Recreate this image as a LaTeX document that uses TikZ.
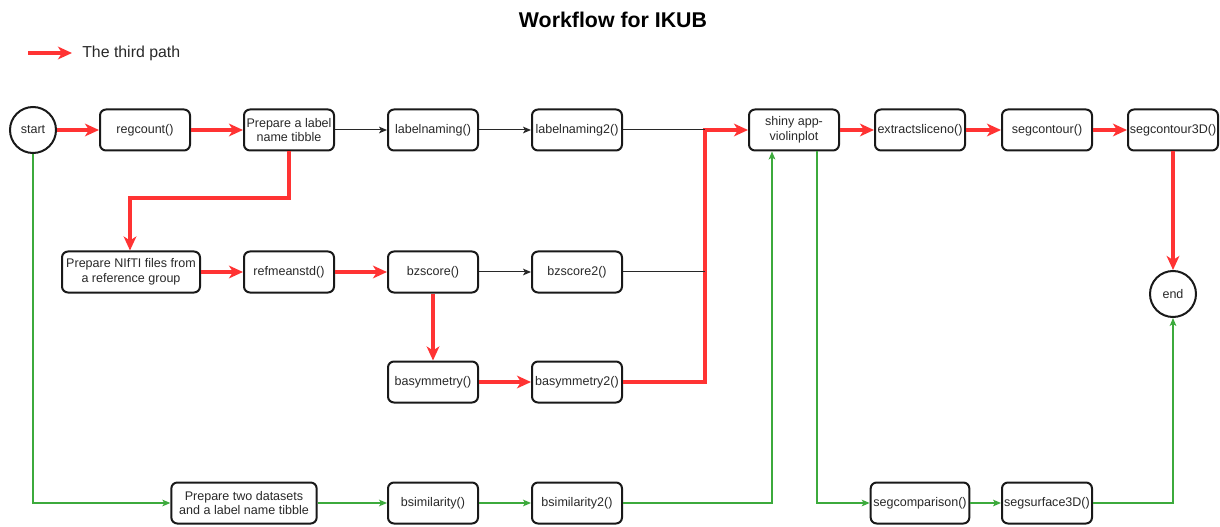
\documentclass[tikz,border=0pt]{standalone}
\usepackage{fontspec}
\setmainfont{Liberation Sans}
\usetikzlibrary{arrows.meta,calc}
\definecolor{pathred}{RGB}{255,51,51}
\definecolor{pathgreen}{RGB}{60,170,60}
\definecolor{ink}{RGB}{40,40,40}
\begin{document}
\begin{tikzpicture}[x=0.75pt,y=-0.75pt,
  box/.style={draw=black!90, line width=1.5pt, rounded corners=4.5pt,
    minimum width=67.5pt, minimum height=30.75pt, align=center,
    inner sep=1pt, text=ink, font=\fontsize{9.4}{11}\selectfont},
  circ/.style={draw=black!90, line width=1.5pt, circle, minimum size=34.5pt,
    inner sep=0pt, text=ink, font=\fontsize{9.4}{11}\selectfont},
  redarr/.style={draw=pathred, line width=2.3pt,
    -{Stealth[length=10.5pt,width=9.5pt,inset=3pt]}},
  blackarr/.style={draw=ink, line width=0.75pt,
    -{Stealth[length=6pt,width=5pt,inset=1.5pt]}},
  blackline/.style={draw=ink, line width=0.75pt},
  greenarr/.style={draw=pathgreen, line width=0.9pt,
    -{Stealth[length=6pt,width=5pt,inset=1.5pt]}}]
\useasboundingbox (0,0) rectangle (1220,527);

% title and legend
\node[font=\bfseries\fontsize{16}{19}\selectfont, text=black] (title) at (613,20) {Workflow for IKUB};
\coordinate (legA) at (28,53);
\coordinate (legB) at (72,53);
\draw[redarr] (legA) -- (legB);
\node[anchor=west, font=\fontsize{11.9}{14}\selectfont, text=ink, inner sep=0pt] (legtext) at (82,53) {The third path};

% top row
\node[circ] (start) at (33,130) {start};
\node[box] (regcount) at (145,130) {regcount()};
\node[box] (prep) at (289,130) {Prepare a label\\name tibble};
\node[box] (ln) at (433,130) {labelnaming()};
\node[box] (ln2) at (577,130) {labelnaming2()};
\node[box] (shiny) at (794,130) {shiny app-\\violinplot};
\node[box] (extract) at (920,130) {extractsliceno()};
\node[box] (segc) at (1047,130) {segcontour()};
\node[box] (segc3) at (1173,130) {segcontour3D()};
\node[circ] (end) at (1173,294) {end};

% middle rows
\node[box, minimum width=103.5pt] (nifti) at (131,272) {Prepare NIfTI files from\\a reference group};
\node[box] (refm) at (289,272) {refmeanstd()};
\node[box] (bz) at (433,272) {bzscore()};
\node[box] (bz2) at (577,272) {bzscore2()};
\node[box] (bas) at (433,382) {basymmetry()};
\node[box] (bas2) at (577,382) {basymmetry2()};

% bottom row
\node[box, minimum width=109pt] (two) at (244,503) {Prepare two datasets\\and a label name tibble};
\node[box] (bsim) at (433,503) {bsimilarity()};
\node[box] (bsim2) at (577,503) {bsimilarity2()};
\node[box, minimum width=74pt] (scmp) at (920,503) {segcomparison()};
\node[box] (ssurf) at (1047,503) {segsurface3D()};

% junction points
\coordinate (jtop) at (705,130);
\coordinate (jmid) at (705,272);
\coordinate (bend) at (130,198);

% red path
\draw[redarr] (start) -- (regcount);
\draw[redarr] (regcount) -- (prep);
\draw[redarr] (prep.south) |- (bend) -- (nifti.north -| bend);
\draw[redarr] (nifti) -- (refm);
\draw[redarr] (refm) -- (bz);
\draw[redarr] (bz) -- (bas);
\draw[redarr] (bas) -- (bas2);
\draw[redarr] (bas2.east) -| (jtop) -- (shiny.west);
\draw[redarr] (shiny) -- (extract);
\draw[redarr] (extract) -- (segc);
\draw[redarr] (segc) -- (segc3);
\draw[redarr] (segc3) -- (end);

% black connectors
\draw[blackarr] (prep) -- (ln);
\draw[blackarr] (ln) -- (ln2);
\draw[blackline] (ln2.east) -- (jtop);
\draw[blackarr] (bz) -- (bz2);
\draw[blackline] (bz2.east) -- (jmid);

% green connectors
\draw[greenarr] (start.south) |- (two.west);
\draw[greenarr] (two) -- (bsim);
\draw[greenarr] (bsim) -- (bsim2);
\draw[greenarr] (bsim2.east) -| ($(shiny.south)+(-22,0)$);
\draw[greenarr] ($(shiny.south)+(23,0)$) |- (scmp.west);
\draw[greenarr] (scmp) -- (ssurf);
\draw[greenarr] (ssurf.east) -| (end.south);
\end{tikzpicture}
\end{document}
